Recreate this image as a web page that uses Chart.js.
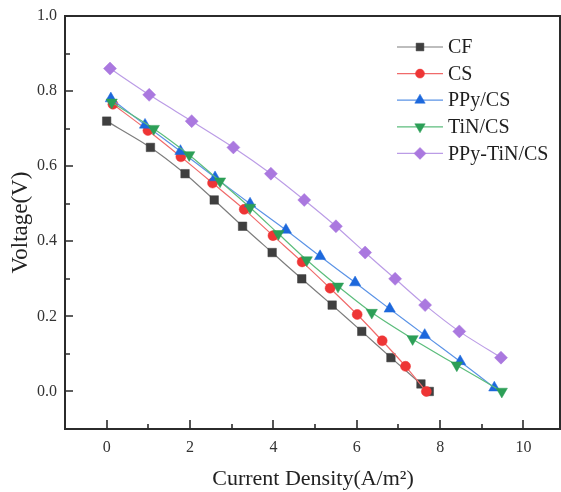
<!DOCTYPE html>
<html>
<head>
<meta charset="utf-8">
<script src="https://cdn.jsdelivr.net/npm/chart.js@4/dist/chart.umd.min.js"></script>
<style>
    html, body { margin: 0; padding: 0; background: #fff; }
    #wrap { width: 561px; height: 492px; position: relative; }
</style>
</head>
<body>
<div id="wrap"><canvas id="chart"></canvas></div>
<script>
// Data
const seriesNames = ['CF', 'CS', 'PPy/CS', 'TiN/CS', 'PPy-TiN/CS'];

const cfX = [0, 1.05, 1.88, 2.58, 3.26, 3.97, 4.68, 5.41, 6.12, 6.82, 7.54, 7.74];
const cfY = [0.72, 0.65, 0.58, 0.51, 0.44, 0.37, 0.30, 0.23, 0.16, 0.09, 0.02, 0.0];

const csX = [0.15, 0.99, 1.78, 2.54, 3.30, 3.99, 4.69, 5.36, 6.01, 6.61, 7.17, 7.67];
const csY = [0.765, 0.695, 0.625, 0.555, 0.485, 0.415, 0.345, 0.275, 0.205, 0.135, 0.067, 0.0];

const ppyX = [0.10, 0.92, 1.77, 2.60, 3.44, 4.30, 5.12, 5.96, 6.79, 7.63, 8.48, 9.30];
const ppyY = [0.78, 0.71, 0.64, 0.57, 0.50, 0.43, 0.36, 0.29, 0.22, 0.15, 0.08, 0.01];

const tinX = [0.12, 1.13, 1.98, 2.72, 3.44, 4.12, 4.80, 5.55, 6.36, 7.34, 8.40, 9.48];
const tinY = [0.77, 0.70, 0.63, 0.56, 0.49, 0.42, 0.35, 0.28, 0.21, 0.14, 0.07, 0.0];

const ptX = [0.08, 1.02, 2.04, 3.04, 3.94, 4.74, 5.50, 6.20, 6.92, 7.64, 8.46, 9.46];
const ptY = [0.86, 0.79, 0.72, 0.65, 0.58, 0.51, 0.44, 0.37, 0.30, 0.23, 0.16, 0.09];

const xTicks = [0, 2, 4, 6, 8, 10];
const xMinor = [1, 3, 5, 7, 9];
const yTicks = [0.0, 0.2, 0.4, 0.6, 0.8, 1.0];
const yMinor = [0.1, 0.3, 0.5, 0.7, 0.9];

const SERIF = '"Liberation Serif", "Times New Roman", serif';
const AXIS = '#2b2b2b';

function pts(xs, ys) {
    return xs.map((x, i) => ({ x: x, y: ys[i] }));
}

// style per series: line colour, marker colour, marker shape
const styles = [
    { line: '#7d7d7d', mark: '#3f3f3f', shape: 'rect', r: 6, rot: 0 },
    { line: '#f06a6a', mark: '#ee3535', shape: 'circle', r: 5, rot: 0 },
    { line: '#5b93e6', mark: '#1d68dc', shape: 'triangle', r: 6.5, rot: 0 },
    { line: '#5cbd7c', mark: '#2c9f57', shape: 'triangle', r: 6.5, rot: 180 },
    { line: '#bb9ce6', mark: '#aa78df', shape: 'rectRot', r: 6.5, rot: 0 }
];

const allData = [pts(cfX, cfY), pts(csX, csY), pts(ppyX, ppyY), pts(tinX, tinY), pts(ptX, ptY)];

const datasets = seriesNames.map((name, i) => ({
    label: name,
    data: allData[i],
    showLine: true,
    borderColor: styles[i].line,
    borderWidth: 1.2,
    tension: 0.25,
    pointStyle: styles[i].shape,
    pointRotation: styles[i].rot,
    pointRadius: styles[i].r,
    pointBackgroundColor: styles[i].mark,
    pointBorderColor: styles[i].mark,
    pointBorderWidth: 0.5,
    order: seriesNames.length - i
}));

// Frame, inward ticks and legend
const framePlugin = {
    id: 'frame',
    afterDraw(chart) {
        const ctx = chart.ctx;
        const a = chart.chartArea;
        const xs = chart.scales.x;
        const ys = chart.scales.y;
        ctx.save();
        ctx.strokeStyle = AXIS;
        ctx.lineWidth = 2;
        ctx.beginPath();
        ctx.rect(a.left, a.top, a.right - a.left - 1, a.bottom - a.top);
        ctx.stroke();

        ctx.lineWidth = 1.6;
        ctx.beginPath();
        xTicks.forEach(v => {
            const px = Math.round(xs.getPixelForValue(v));
            ctx.moveTo(px, a.bottom); ctx.lineTo(px, a.bottom - 9);
        });
        xMinor.forEach(v => {
            const px = Math.round(xs.getPixelForValue(v));
            ctx.moveTo(px, a.bottom); ctx.lineTo(px, a.bottom - 5);
        });
        yTicks.forEach(v => {
            const py = Math.round(ys.getPixelForValue(v));
            ctx.moveTo(a.left, py); ctx.lineTo(a.left + 8, py);
        });
        yMinor.forEach(v => {
            const py = Math.round(ys.getPixelForValue(v));
            ctx.moveTo(a.left, py); ctx.lineTo(a.left + 5, py);
        });
        ctx.stroke();

        // legend
        ctx.font = '20px ' + SERIF;
        ctx.textBaseline = 'middle';
        ctx.textAlign = 'left';
        seriesNames.forEach((name, i) => {
            const y = 47 + i * 26.6;
            const st = styles[i];
            ctx.strokeStyle = st.line;
            ctx.lineWidth = 1.2;
            ctx.beginPath();
            ctx.moveTo(397, y); ctx.lineTo(443, y);
            ctx.stroke();
            ctx.fillStyle = st.mark;
            ctx.strokeStyle = st.mark;
            ctx.lineWidth = 0.5;
            Chart.helpers.drawPoint(ctx, {
                pointStyle: st.shape, radius: st.r - 0.5, rotation: st.rot, borderWidth: 0.5
            }, 420, y);
            ctx.fillStyle = '#1e1e1e';
            ctx.fillText(name, 448, y + 1);
        });
        ctx.restore();
    }
};

new Chart(document.getElementById('chart'), {
    type: 'scatter',
    data: { datasets: datasets },
    options: {
        responsive: true,
        maintainAspectRatio: false,
        animation: false,
        layout: { autoPadding: false, padding: { top: 16, right: 0, left: 0, bottom: 0 } },
        plugins: {
            legend: { display: false },
            tooltip: { enabled: false }
        },
        scales: {
            x: {
                type: 'linear',
                min: -1,
                max: 10.9,
                grid: { display: false, drawTicks: false },
                border: { display: false },
                afterBuildTicks: scale => { scale.ticks = xTicks.map(v => ({ value: v })); },
                afterFit: scale => {
                    scale.height = 63;
                    scale.paddingLeft = 0;
                    scale.paddingRight = 0;
                },
                ticks: {
                    padding: 9,
                    color: '#333',
                    font: { family: SERIF, size: 16 },
                    callback: v => String(v)
                },
                title: {
                    display: true,
                    text: 'Current Density(A/m²)',
                    color: '#222',
                    font: { family: SERIF, size: 22 },
                    padding: { top: 0, bottom: 0 }
                }
            },
            y: {
                min: -0.1,
                max: 1.0,
                grid: { display: false, drawTicks: false },
                border: { display: false },
                afterBuildTicks: scale => { scale.ticks = yTicks.map(v => ({ value: v })); },
                afterFit: scale => {
                    scale.width = 65;
                    scale.paddingTop = 0;
                    scale.paddingBottom = 0;
                },
                ticks: {
                    padding: 8,
                    color: '#333',
                    font: { family: SERIF, size: 16 },
                    callback: v => Number(v).toFixed(1)
                },
                title: {
                    display: true,
                    text: 'Voltage(V)',
                    color: '#222',
                    font: { family: SERIF, size: 23 },
                    padding: { top: 7, bottom: 0 }
                }
            }
        }
    },
    plugins: [framePlugin]
});
</script>
</body>
</html>
